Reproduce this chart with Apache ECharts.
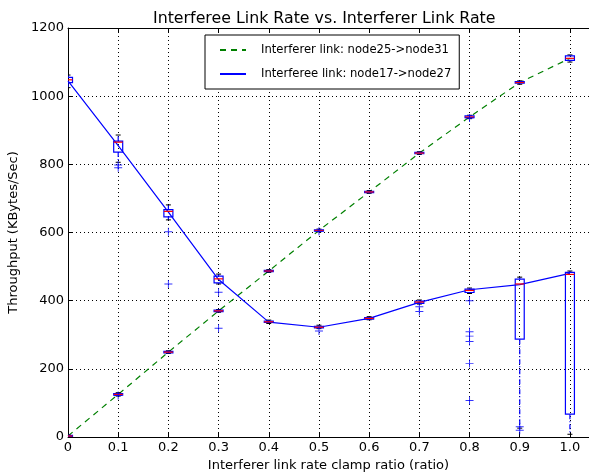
<!DOCTYPE html>
<html>
<head>
<meta charset="utf-8">
<script src="https://cdn.jsdelivr.net/npm/echarts@6/dist/echarts.min.js"></script>
<style>html,body{margin:0;padding:0;background:#fff;overflow:hidden}#c{width:589px;height:472px}</style>
</head>
<body>
<div id="c"></div>
<script>
// ---- data ----
const xValues = [0, 0.1, 0.2, 0.3, 0.4, 0.5, 0.6, 0.7, 0.8, 0.9, 1.0];
const xTickLabels = ['0', '0.1', '0.2', '0.3', '0.4', '0.5', '0.6', '0.7', '0.8', '0.9', '1.0'];
const yTicks = [0, 200, 400, 600, 800, 1000, 1200];
const interfererName = 'Interferer link: node25->node31';
const interfereeName = 'Interferee link: node17->node27';
const interfererLine = [3, 125, 249, 370, 487, 606, 719, 833, 939, 1040, 1111];
const interfereeLine = [1045, 855, 660, 462, 337, 322, 348, 395, 432, 447, 480];
// [low whisker, q1, median, q3, high whisker]
const interfererBoxes = [
  [0, 1, 3, 5, 6], [120, 123, 125, 127, 130], [245, 247, 249, 251, 253], [366, 368, 370, 372, 374],
  [483, 485, 487, 489, 491], [602, 604, 606, 608, 610], [715, 717, 719, 721, 723], [829, 831, 833, 835, 837],
  [934, 937, 939, 942, 944], [1035, 1038, 1040, 1043, 1045], [1100, 1105, 1111, 1118, 1121]
];
const interfereeBoxes = [
  [1025, 1040, 1048, 1055, 1062], [806, 836, 865, 868, 886], [637, 646, 662, 667, 681], [449, 452, 464, 472, 478],
  [333, 336, 338, 340, 343], [318, 320, 322, 325, 328], [344, 346, 348, 350, 353], [390, 392, 396, 399, 402],
  [421, 424, 430, 434, 437], [26, 287, 449, 463, 469], [8, 67, 477, 483, 487]
];
const interfereeOutliers = [
  [0.1, 798], [0.1, 790], [0.2, 602], [0.2, 449], [0.3, 425], [0.3, 319], [0.5, 311],
  [0.7, 382], [0.7, 368], [0.8, 400], [0.8, 309], [0.8, 296], [0.8, 280], [0.8, 216], [0.8, 107],
  [0.9, 30], [0.9, 20]
];
const interfererOutliers = [[0.1, 122], [0.5, 604], [0.8, 936]];

// ---- chart ----
const FONT = 'DejaVu Sans';
const boxData = (boxes) => boxes.map((b, i) => [xValues[i]].concat(b));
const lineData = (vals) => vals.map((v, i) => [xValues[i], v]);

function renderBox(params, api) {
  const x = api.value(0);
  const lo = api.coord([x, api.value(1)]);
  const q1 = api.coord([x, api.value(2)]);
  const md = api.coord([x, api.value(3)]);
  const q3 = api.coord([x, api.value(4)]);
  const hi = api.coord([x, api.value(5)]);
  const cx = lo[0];
  const hw = 4.5, cw = 2.5;
  const blue = '#0000ff';
  return {
    type: 'group',
    children: [
      {type: 'line', shape: {x1: cx, y1: q3[1], x2: cx, y2: hi[1]}, style: {stroke: blue, lineWidth: 1.2, lineDash: [5, 2, 1, 2]}},
      {type: 'line', shape: {x1: cx, y1: q1[1], x2: cx, y2: lo[1]}, style: {stroke: blue, lineWidth: 1.2, lineDash: [5, 2, 1, 2]}},
      {type: 'line', shape: {x1: cx - cw, y1: hi[1], x2: cx + cw, y2: hi[1]}, style: {stroke: '#000', lineWidth: 1}},
      {type: 'line', shape: {x1: cx - cw, y1: lo[1], x2: cx + cw, y2: lo[1]}, style: {stroke: '#000', lineWidth: 1}},
      {type: 'rect', shape: {x: cx - hw, y: q3[1], width: 2 * hw, height: Math.max(q1[1] - q3[1], 1)}, style: {stroke: blue, fill: 'none', lineWidth: 1.2}},
      {type: 'line', shape: {x1: cx - hw, y1: md[1], x2: cx + hw, y2: md[1]}, style: {stroke: '#ff0000', lineWidth: 1.2}}
    ]
  };
}

const plusPath = 'path://M4.4,0H5.6V4.4H10V5.6H5.6V10H4.4V5.6H0V4.4H4.4Z';

const el = document.getElementById('c');
const chart = echarts.init(el, null, {renderer: 'canvas'});
const tickLabelStyle = {fontFamily: FONT, fontSize: 13, color: '#000'};
chart.setOption({
  animation: false,
  backgroundColor: '#fff',
  title: {
    text: 'Interferee Link Rate vs. Interferer Link Rate',
    left: 148, top: 6,
    textStyle: {fontFamily: FONT, fontSize: 15.8, fontWeight: 'normal', color: '#000'}
  },
  legend: {
    orient: 'vertical',
    left: 205, top: 35,
    data: [interfererName, interfereeName],
    itemWidth: 26, itemHeight: 10, itemGap: 12,
    padding: [9, 8, 9, 14],
    borderColor: '#000', borderWidth: 1,
    backgroundColor: '#fff',
    itemStyle: {color: 'rgba(0,0,0,0)', borderWidth: 0, opacity: 0},
    textStyle: {fontFamily: FONT, fontSize: 11.6, color: '#000', padding: [0, 0, 0, 10]}
  },
  grid: {left: 68, right: 0, top: 28, bottom: 35, containLabel: false, outerBoundsMode: 'none'},
  xAxis: [{
    type: 'value', min: 0, max: 1.038, interval: 0.1,
    name: 'Interferer link rate clamp ratio (ratio)', nameLocation: 'middle', nameGap: 19,
    nameTextStyle: {fontFamily: FONT, fontSize: 13, color: '#000'},
    axisLine: {show: true, onZero: false, lineStyle: {color: '#000', width: 1}},
    axisTick: {show: true, inside: true, length: 4, lineStyle: {color: '#000'}},
    axisLabel: {
      ...tickLabelStyle, margin: 4, showMaxLabel: false,
      formatter: (v) => { const i = Math.round(v * 10); return Math.abs(v * 10 - i) < 1e-6 && i <= 10 ? xTickLabels[i] : ''; }
    },
    splitLine: {show: true, lineStyle: {color: '#000', type: [1, 3], width: 1}}
  }, {
    type: 'value', min: 0, max: 1.038, interval: 0.1, position: 'top',
    axisLine: {show: true, onZero: false, lineStyle: {color: '#000', width: 1}},
    axisTick: {show: true, inside: true, length: 4, lineStyle: {color: '#000'}},
    axisLabel: {show: false}, splitLine: {show: false}
  }],
  yAxis: [{
    type: 'value', min: 0, max: 1200, interval: 200,
    name: 'Throughput (KBytes/Sec)', nameLocation: 'middle', nameGap: 36,
    nameTextStyle: {fontFamily: FONT, fontSize: 13, color: '#000'},
    axisLine: {show: true, onZero: false, lineStyle: {color: '#000', width: 1}},
    axisTick: {show: true, inside: true, length: 4, lineStyle: {color: '#000'}},
    axisLabel: {...tickLabelStyle, margin: 4, formatter: (v) => String(yTicks[Math.round(v / 200)])},
    splitLine: {show: true, lineStyle: {color: '#000', type: [1, 3], width: 1}}
  }],
  series: [
    {
      name: interfererName, type: 'line', data: lineData(interfererLine), symbol: 'none',
      lineStyle: {color: '#008000', width: 1.2, type: [6, 5]}, itemStyle: {color: '#008000'}, z: 3
    },
    {
      name: interfereeName, type: 'line', data: lineData(interfereeLine), symbol: 'none',
      lineStyle: {color: '#0000ff', width: 1.2}, itemStyle: {color: '#0000ff'}, z: 3
    },
    {type: 'custom', renderItem: renderBox, clip: true, data: boxData(interfererBoxes), encode: {x: 0, y: [1, 2, 3, 4, 5]}, z: 4},
    {type: 'custom', renderItem: renderBox, clip: true, data: boxData(interfereeBoxes), encode: {x: 0, y: [1, 2, 3, 4, 5]}, z: 4},
    {type: 'scatter', data: interfereeOutliers, symbol: plusPath, symbolSize: 8, itemStyle: {color: '#0000ff'}, z: 5},
    {type: 'scatter', data: interfererOutliers, symbol: plusPath, symbolSize: 8, itemStyle: {color: '#0000ff'}, z: 5}
  ]
});
</script>
</body>
</html>
